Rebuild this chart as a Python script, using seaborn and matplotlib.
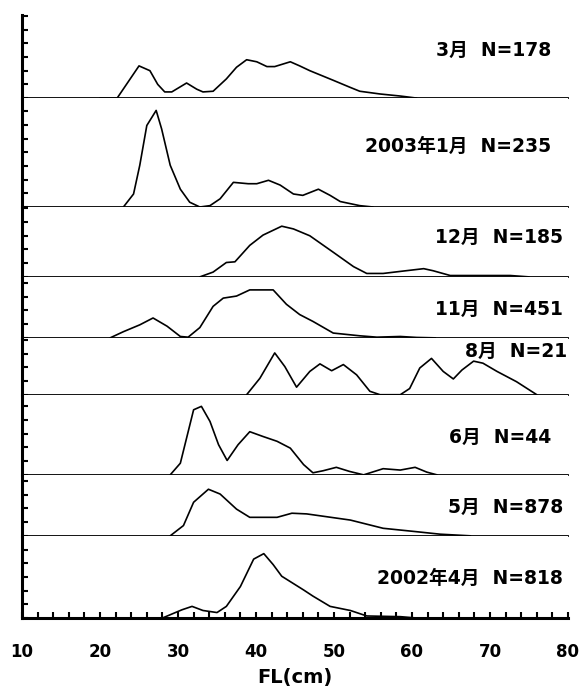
import numpy as np
import pandas as pd
import matplotlib
matplotlib.use('Agg')
import matplotlib.pyplot as plt
import seaborn as sns

# monthly fork-length frequency (%), top panel to bottom panel
months = ['3月', '2003年1月', '12月', '11月', '8月', '6月', '5月', '2002年4月']
sample_n = [178, 235, 185, 451, 21, 44, 878, 818]

fl_mar = [20, 22.2, 25, 26.4, 27.4, 28.3, 29.2, 31.1, 32.4, 33.2, 34.5, 36.2, 37.5, 38.8,
          40.1, 41.4, 42.4, 44.4, 45.6, 46.9, 49.9, 52, 53.3, 55.9, 58.5, 60.6]
freq_mar = [0, 0, 2.35, 2.0, 1.0, 0.45, 0.45, 1.1, 0.65, 0.45, 0.5, 1.4, 2.25, 2.8,
            2.65, 2.3, 2.3, 2.65, 2.35, 2.0, 1.3, 0.8, 0.5, 0.3, 0.15, 0]

fl_jan = [23, 24.3, 25.1, 26, 27.2, 27.9, 29, 30.3, 31.5, 32.8, 34.1, 35.4, 37.1, 39,
          40.1, 41.6, 43.1, 44.8, 46, 48, 49.5, 50.8, 53.3, 55]
freq_jan = [0, 0.95, 3.05, 5.95, 7.05, 5.7, 3.05, 1.3, 0.35, 0, 0.1, 0.6, 1.8, 1.7,
            1.7, 1.95, 1.6, 0.95, 0.85, 1.3, 0.85, 0.4, 0.1, 0]

fl_dec = [32.8, 34.5, 36.2, 37.3, 39.2, 40.9, 43.3, 44.8, 46.9, 49.9, 52.5, 54.2, 56.3,
          58.5, 61.5, 62.7, 64.9, 69.1, 72.6, 75]
freq_dec = [0, 0.35, 1.05, 1.1, 2.3, 3.05, 3.7, 3.5, 3.0, 1.8, 0.75, 0.25, 0.25,
            0.4, 0.6, 0.45, 0.1, 0.1, 0.1, 0]

fl_nov = [21.3, 23, 25.1, 26.8, 28.6, 30.3, 31.3, 32.8, 34.5, 35.8, 37.5, 39.2, 42.2,
          43.9, 45.6, 47.3, 49.9, 53.3, 55.5, 58.5, 60.6, 63]
freq_nov = [0, 0.45, 0.95, 1.45, 0.85, 0.1, 0.05, 0.75, 2.3, 2.9, 3.05, 3.5, 3.5,
            2.45, 1.7, 1.2, 0.35, 0.15, 0.05, 0.1, 0.03, 0]

fl_aug = [38.8, 40.5, 42.4, 43.7, 45.2, 46.9, 48.2, 49.7, 51.2, 52.9, 54.6, 55.9, 58.5,
          59.7, 61, 62.5, 64, 65.3, 66.4, 67.9, 69.1, 70.9, 73.4, 76]
freq_aug = [0, 1.2, 3.05, 2.05, 0.55, 1.7, 2.25, 1.75, 2.2, 1.45, 0.25, 0, 0,
            0.45, 1.95, 2.65, 1.7, 1.15, 1.8, 2.45, 2.3, 1.7, 0.95, 0]

fl_jun = [29, 30.3, 32, 33, 34.1, 35.2, 36.3, 37.7, 39.2, 40.9, 42.7, 44.4, 46.1, 47.3,
          48.6, 50.3, 52, 53.8, 56.3, 58.5, 60.4, 61.9, 63.2]
freq_jun = [0, 0.85, 4.75, 5.0, 3.9, 2.2, 1.05, 2.2, 3.15, 2.8, 2.45, 1.95, 0.75, 0.15,
            0.3, 0.55, 0.25, 0, 0.45, 0.35, 0.55, 0.2, 0]

fl_may = [29, 30.7, 32, 33.9, 35.4, 37.5, 39.2, 42.7, 44.6, 46.5, 52.1, 56.3, 60.6, 63.6, 67.5]
freq_may = [0, 0.75, 2.45, 3.4, 3.05, 1.95, 1.35, 1.35, 1.65, 1.6, 1.15, 0.55, 0.3, 0.12, 0]

fl_apr = [28, 30.5, 31.8, 33.2, 35, 36.2, 38, 39.7, 41, 42.2, 43.3, 46.1, 47.3, 49.5,
          52.1, 54.2, 58.5, 60.6]
freq_apr = [0, 0.6, 0.85, 0.55, 0.4, 0.85, 2.3, 4.3, 4.7, 3.9, 3.05, 2.05, 1.6, 0.85,
            0.55, 0.15, 0.1, 0]

fl_lists = [fl_mar, fl_jan, fl_dec, fl_nov, fl_aug, fl_jun, fl_may, fl_apr]
freq_lists = [freq_mar, freq_jan, freq_dec, freq_nov, freq_aug, freq_jun, freq_may, freq_apr]

# layout of the stacked panels
panel_top = [6.05, 7.95, 5.1, 4.45, 4.15, 5.85, 4.45, 6.0]
label_x = [77.9, 77.9, 79.4, 79.4, 79.9, 77.9, 79.4, 79.4]
label_y = [3.5, 4.4, 2.9, 2.05, 3.15, 2.7, 2.05, 2.9]

sns.set_style('ticks', {'axes.edgecolor': 'black', 'text.color': 'black',
                        'xtick.color': 'black', 'ytick.color': 'black'})
plt.rcParams['font.family'] = ['DejaVu Sans', 'Noto Sans CJK JP']
plt.rcParams['font.weight'] = 'bold'

fig, axes = plt.subplots(8, 1, sharex=True, figsize=(5.87, 6.91), dpi=100,
                         gridspec_kw=dict(height_ratios=panel_top, hspace=0))
fig.subplots_adjust(left=0.0375, right=0.9676, bottom=0.1056, top=0.978)

for i, ax in enumerate(axes):
    df = pd.DataFrame({'FL': fl_lists[i], 'freq': freq_lists[i]})
    sns.lineplot(data=df, x='FL', y='freq', ax=ax, color='black', linewidth=1.2)
    ax.set_ylim(0, panel_top[i])
    ax.set_yticks(np.arange(0, panel_top[i], 1))
    ax.tick_params(axis='y', direction='in', length=4, width=1.5, labelleft=False)
    ax.set_ylabel('')
    ax.spines['top'].set_visible(False)
    ax.spines['right'].set_visible(False)
    ax.spines['left'].set_linewidth(2.2)
    ax.spines['bottom'].set_linewidth(1.3)
    ax.text(label_x[i], label_y[i], '{}  N={}'.format(months[i], sample_n[i]),
            ha='right', va='center', fontsize=13.5, fontweight='bold', color='black')
    if i < len(axes) - 1:
        ax.tick_params(axis='x', bottom=False, which='both')

bottom = axes[-1]
bottom.spines['bottom'].set_linewidth(2.2)
bottom.set_xlim(10, 80)
bottom.set_xticks(np.arange(10, 81, 10))
bottom.set_xticks(np.arange(10, 81, 2), minor=True)
bottom.tick_params(axis='x', which='both', direction='in', length=4, width=1.5)
bottom.tick_params(axis='x', which='major', pad=18, labelsize=12)
bottom.set_xlabel('FL(cm)', fontsize=14, fontweight='bold', labelpad=5, color='black')

plt.savefig('out.png', dpi=100)
